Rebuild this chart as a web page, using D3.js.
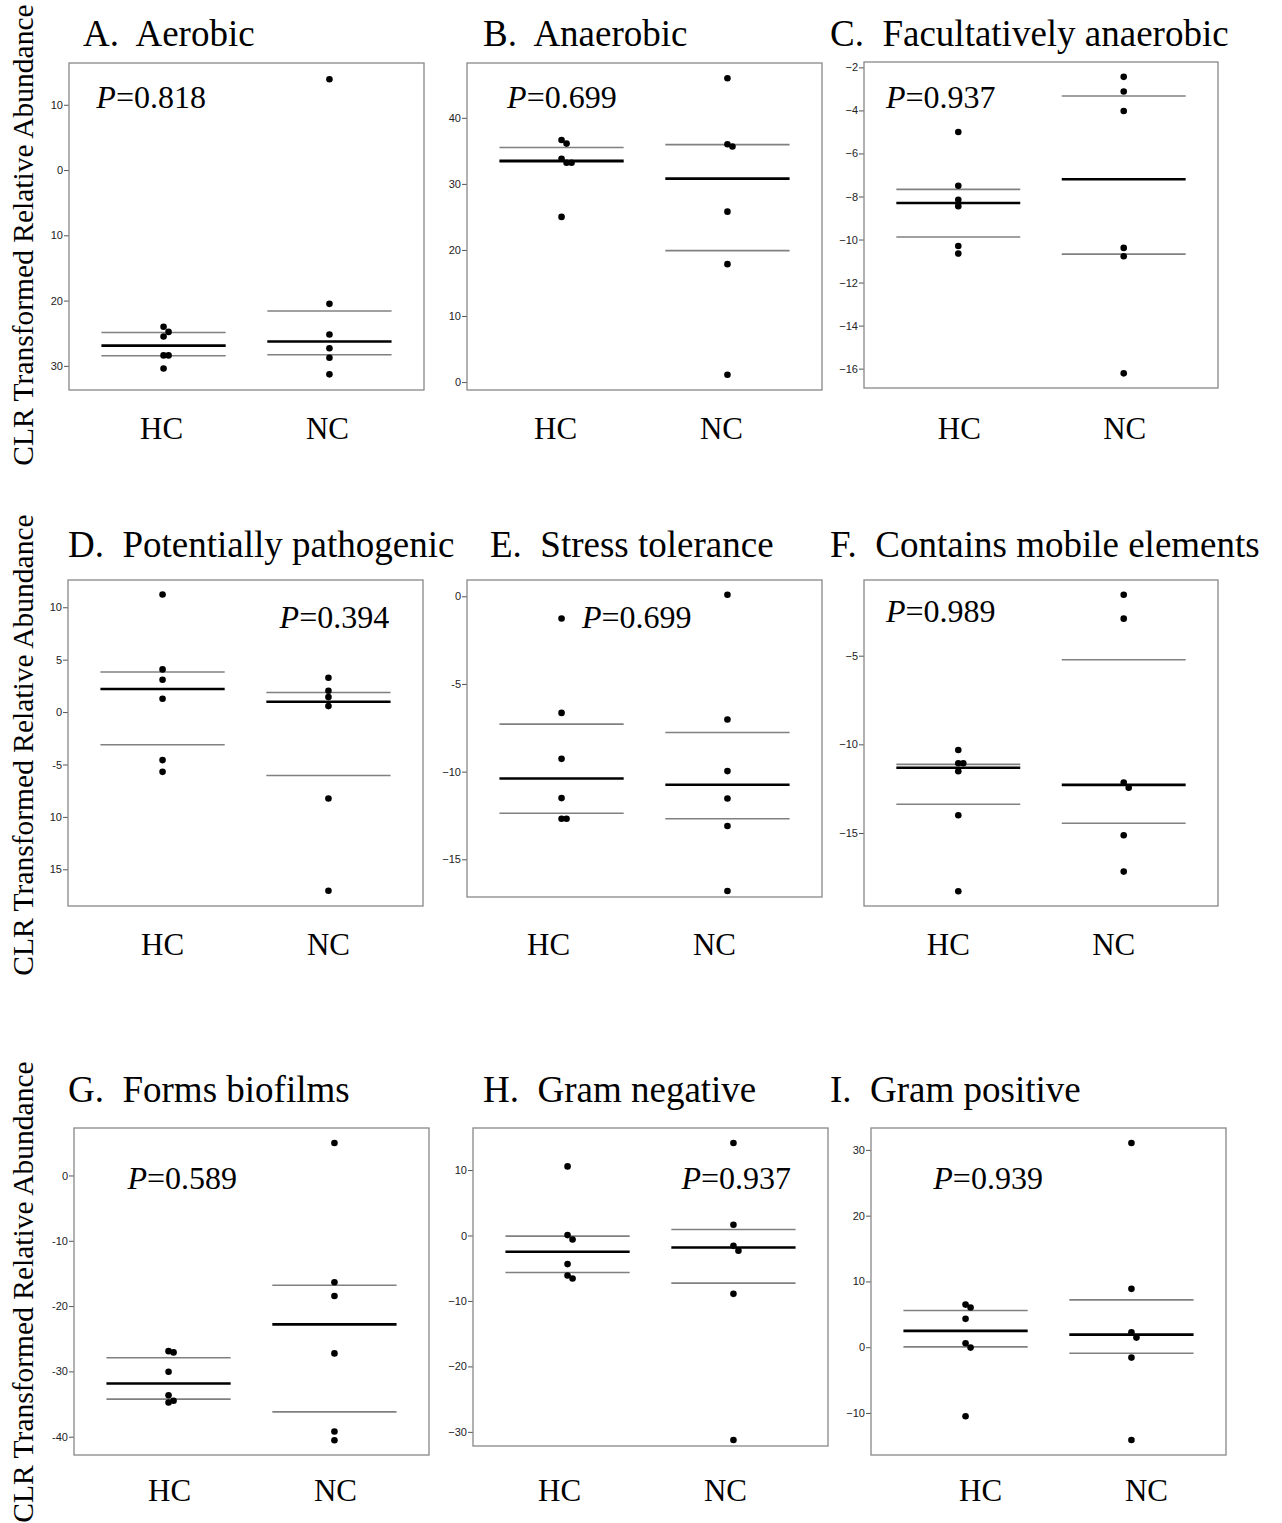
<!DOCTYPE html>
<html>
<head>
<meta charset="utf-8">
<script src="https://cdn.jsdelivr.net/npm/d3@7"></script>
<style>
  body { margin: 0; background: #fff; }
</style>
</head>
<body>
<svg id="chart"></svg>
<script>
// groups on every panel
const groups = ["HC", "NC"];

const titles = [
  "A.  Aerobic", "B.  Anaerobic", "C.  Facultatively anaerobic",
  "D.  Potentially pathogenic", "E.  Stress tolerance", "F.  Contains mobile elements",
  "G.  Forms biofilms", "H.  Gram negative", "I.  Gram positive"
];

const pValues = ["0.818", "0.699", "0.937", "0.394", "0.699", "0.989", "0.589", "0.937", "0.939"];

// CLR values
const hcValues = [
  [-24.0, -24.8, -25.5, -28.4, -28.4, -30.4],
  [36.65, 36.1, 33.8, 33.2, 33.2, 25.0],
  [-5.0, -7.5, -8.15, -8.45, -10.3, -10.65],
  [11.22, 4.07, 3.08, 1.27, -4.58, -5.7],
  [-1.27, -6.65, -9.27, -11.51, -12.69, -12.69],
  [-10.32, -11.07, -11.07, -11.52, -14.0, -18.29],
  [-26.9, -27.09, -30.06, -33.64, -34.5, -34.75],
  [10.55, 0.06, -0.61, -4.37, -6.12, -6.57],
  [6.48, 6.03, 4.31, 0.61, -0.06, -10.5]
];
const ncValues = [
  [13.9, -20.5, -25.2, -27.3, -28.75, -31.3],
  [46.0, 36.0, 35.65, 25.8, 17.85, 1.1],
  [-2.44, -3.12, -4.03, -10.39, -10.78, -16.22],
  [3.27, 2.03, 1.43, 0.57, -8.24, -17.05],
  [0.09, -7.03, -9.97, -11.53, -13.1, -16.81],
  [-1.56, -2.91, -12.15, -12.45, -15.13, -17.18],
  [4.97, -16.35, -18.45, -27.24, -39.2, -40.54],
  [14.13, 1.63, -1.58, -2.34, -8.92, -31.24],
  [31.05, 8.87, 2.28, 1.46, -1.58, -14.11]
];

// [median, upper, lower]
const hcLines = [
  [-26.9, -24.9, -28.45], [33.5, 35.5, 33.3], [-8.3, -7.67, -9.88],
  [2.2, 3.82, -3.12], [-10.39, -7.29, -12.37], [-11.32, -11.13, -13.38],
  [-31.85, -27.9, -34.25], [-2.49, -0.1, -5.66], [2.48, 5.57, 0.05]
];
const ncLines = [
  [-26.26, -21.6, -28.3], [30.8, 35.95, 19.9], [-7.2, -3.33, -10.68],
  [0.98, 1.87, -6.05], [-10.75, -7.77, -12.69], [-12.29, -5.23, -14.45],
  [-22.8, -16.81, -36.2], [-1.83, 0.92, -7.28], [1.92, 7.2, -0.91]
];

const yDomains = [
  [-33.7, 16.4], [-1.2, 48.3], [-16.9, -1.75],
  [-18.5, 12.6], [-17.15, 0.93], [-19.12, -0.73],
  [-42.8, 7.27], [-32.16, 16.42], [-16.39, 33.33]
];

const tickValues = [
  [10, 0, -10, -20, -30], [0, 10, 20, 30, 40], [-2, -4, -6, -8, -10, -12, -14, -16],
  [10, 5, 0, -5, -10, -15], [0, -5, -10, -15], [-5, -10, -15],
  [0, -10, -20, -30, -40], [10, 0, -10, -20, -30], [30, 20, 10, 0, -10]
];
const tickLabels = [
  ["10", "0", "10", "20", "30"],
  ["0", "10", "20", "30", "40"],
  ["\u22122", "\u22124", "\u22126", "\u22128", "\u221210", "\u221212", "\u221214", "\u221216"],
  ["10", "5", "0", "-5", "10", "15"],
  ["0", "-5", "\u221210", "\u221215"],
  ["\u22125", "\u221210", "\u221215"],
  ["0", "-10", "-20", "-30", "-40"],
  ["10", "0", "\u221210", "\u221220", "\u221230"],
  ["30", "20", "10", "0", "\u221210"]
];

// where the P label sits: [fraction of panel width, y value]
const pSpots = [
  [0.077, 9.5], [0.113, 41.5], [0.062, -3.89],
  [0.596, 8.04], [0.324, -1.81], [0.062, -3.08],
  [0.1505, -2.04], [0.587, 7.14], [0.1755, 24.1]
];

// panel boxes on the page
const layout = [
  { left: 69, top: 63, right: 424, bottom: 390, tx: 83, ty: 46, lx: -2, ly: 439 },
  { left: 467, top: 63, right: 822, bottom: 390, tx: 483, ty: 46, lx: -6, ly: 439 },
  { left: 864, top: 62, right: 1218, bottom: 388, tx: 830, ty: 46, lx: 1, ly: 439 },
  { left: 68, top: 580, right: 423, bottom: 906, tx: 68, ty: 557, lx: 0, ly: 955 },
  { left: 467, top: 580, right: 822, bottom: 897, tx: 490, ty: 557, lx: -13, ly: 955 },
  { left: 864, top: 580, right: 1218, bottom: 906, tx: 830, ty: 557, lx: -10, ly: 955 },
  { left: 74, top: 1128, right: 429, bottom: 1455, tx: 68, ty: 1102, lx: 1, ly: 1501 },
  { left: 473, top: 1128, right: 828, bottom: 1446, tx: 483, ty: 1102, lx: -8, ly: 1501 },
  { left: 871, top: 1128, right: 1226, bottom: 1455, tx: 830, ty: 1102, lx: 15, ly: 1501 }
];

const serif = "'Liberation Serif', 'Times New Roman', serif";
const sans = "'Liberation Sans', Arial, sans-serif";

const width = 1282, height = 1523;
const svg = d3.select("#chart").attr("width", width).attr("height", height);
svg.append("rect").attr("width", width).attr("height", height).attr("fill", "#fff");

// y label for each row
[235, 745, 1292].forEach(cy => {
  svg.append("text")
    .attr("transform", `translate(33,${cy}) rotate(-90)`)
    .attr("text-anchor", "middle")
    .style("font-family", serif)
    .style("font-size", "29.5px")
    .text("CLR Transformed Relative Abundance");
});

function draw_panel(i) {
  let b = layout[i];
  let x = d3.scalePoint(groups, [b.left, b.right]).padding(0.57);
  let y = d3.scaleLinear(yDomains[i], [b.bottom, b.top]);
  let half = (b.right - b.left) * 0.175;

  let g = svg.append("g");

  // title (keep the double space)
  g.append("text")
    .attr("x", b.tx).attr("y", b.ty)
    .style("white-space", "pre")
    .style("font-family", serif).style("font-size", "37px")
    .text(titles[i]);

  // axis
  let axis = d3.axisLeft(y)
    .tickValues(tickValues[i])
    .tickFormat((d, j) => tickLabels[i][j])
    .tickSize(5).tickPadding(1);
  let ag = g.append("g").attr("transform", `translate(${b.left},0)`).call(axis);
  ag.select(".domain").remove();
  ag.selectAll(".tick line").attr("stroke", "#555");
  ag.selectAll(".tick text").attr("fill", "#222")
    .style("font-family", sans).style("font-size", "11px");

  // box
  g.append("rect")
    .attr("x", b.left).attr("y", b.top)
    .attr("width", b.right - b.left).attr("height", b.bottom - b.top)
    .attr("fill", "none").attr("stroke", "#888").attr("stroke-width", 1.3);

  let sets = [
    { grp: "HC", vals: hcValues[i], lines: hcLines[i] },
    { grp: "NC", vals: ncValues[i], lines: ncLines[i] }
  ];

  sets.forEach(s => {
    let cx = x(s.grp);
    // quartile lines first, median on top
    g.selectAll(null).data(s.lines.slice(1)).enter().append("line")
      .attr("x1", cx - half).attr("x2", cx + half)
      .attr("y1", d => y(d)).attr("y2", d => y(d))
      .attr("stroke", "#808080").attr("stroke-width", 1.6);
    g.append("line")
      .attr("x1", cx - half).attr("x2", cx + half)
      .attr("y1", y(s.lines[0])).attr("y2", y(s.lines[0]))
      .attr("stroke", "#000").attr("stroke-width", 2.6);

    // nudge dots that would sit on top of each other
    let placed = [];
    s.vals.forEach(v => {
      let py = y(v), dx = 0;
      while (placed.some(p => Math.abs(p.py - py) < 6 && Math.abs(p.dx - dx) < 5)) dx += 5;
      placed.push({ py: py, dx: dx });
    });
    g.selectAll(null).data(placed).enter().append("circle")
      .attr("cx", d => cx + d.dx).attr("cy", d => d.py)
      .attr("r", 3.3).attr("fill", "#000");

    // group label
    g.append("text")
      .attr("x", cx + b.lx).attr("y", b.ly)
      .attr("text-anchor", "middle")
      .style("font-family", serif).style("font-size", "31px")
      .text(s.grp);
  });

  // P value
  let pt = g.append("text")
    .attr("x", b.left + (b.right - b.left) * pSpots[i][0])
    .attr("y", y(pSpots[i][1]))
    .style("font-family", serif).style("font-size", "32px");
  pt.append("tspan").style("font-style", "italic").text("P");
  pt.append("tspan").text("=" + pValues[i]);
}

for (let i = 0; i < 9; i++) draw_panel(i);
</script>
</body>
</html>
